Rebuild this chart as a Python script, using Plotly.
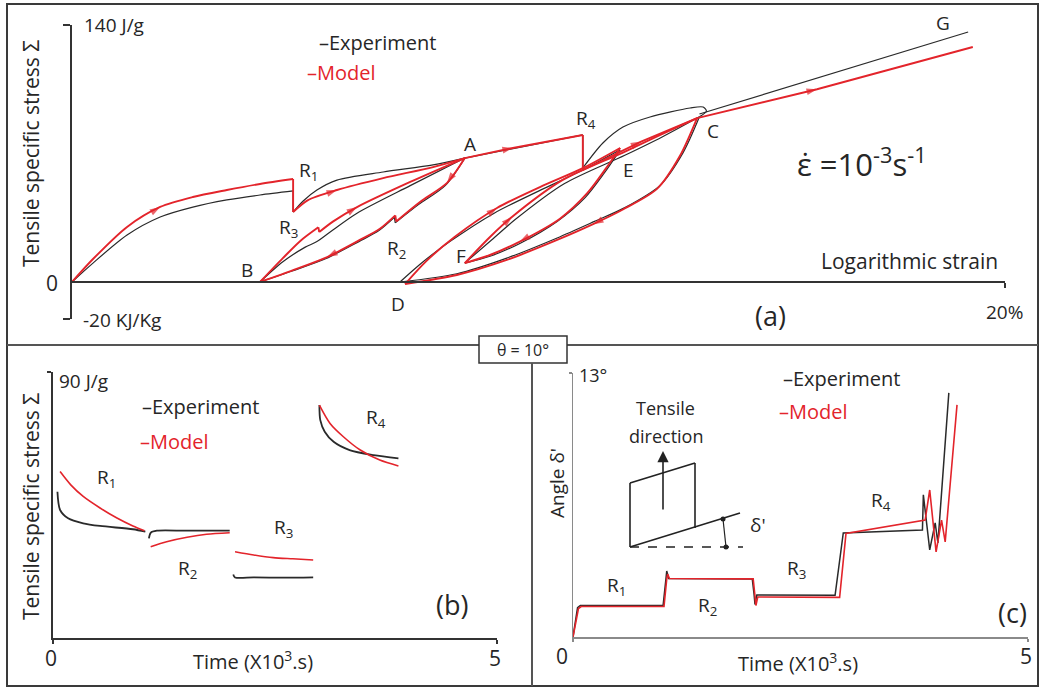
import plotly.graph_objects as go

W, H = 1041, 688
FONT = "'Open Sans', Lato, 'DejaVu Sans', sans-serif"
TXT = "#262626"
RED = "#e3242b"
BLK = "#2a2a2a"
AX = "#333333"

# ---------------- Panel (a): logarithmic strain (%) vs specific stress (J/g) ----------------
# Model (red) branches
mod_load_x = [0.0, 0.45, 1.18, 1.89, 2.59, 3.32, 4.03, 4.74]
mod_load_y = [0.0, 12.5, 30.0, 40.9, 46.3, 50.1, 53.4, 56.1]
mod_r1_x = [4.74, 4.74]
mod_r1_y = [56.1, 38.1]
mod_r1a_x = [4.74, 5.05, 5.68, 6.67, 7.74, 8.42]
mod_r1a_y = [38.1, 44.5, 50.1, 56.6, 62.6, 67.5]
mod_ar2_x = [8.42, 8.04, 7.46, 6.95]
mod_ar2_y = [67.5, 54.0, 43.6, 33.0]
mod_r2_x = [6.95, 6.93]
mod_r2_y = [33.0, 36.3]
mod_r2b_x = [6.93, 6.6, 6.17, 5.47, 4.74, 4.03]
mod_r2b_y = [36.3, 29.0, 22.9, 13.6, 6.5, 0.0]
mod_br3_x = [4.03, 4.52, 4.9, 5.28]
mod_br3_y = [0.0, 13.0, 22.5, 29.8]
mod_r3_x = [5.28, 5.30]
mod_r3_y = [29.8, 27.2]
mod_r3a_x = [5.30, 5.6, 6.11, 7.25, 8.42]
mod_r3a_y = [27.2, 33.0, 40.8, 54.5, 67.5]
mod_ar4_x = [8.42, 9.45, 10.95]
mod_ar4_y = [67.5, 73.0, 80.1]
mod_r4_x = [10.95, 10.95]
mod_r4_y = [80.1, 61.0]
mod_r4c_x = [10.95, 12.2, 13.4]
mod_r4c_y = [61.0, 76.5, 89.3]
mod_cd_x = [13.4, 13.03, 12.54, 11.81, 11.17, 10.4, 9.32, 8.25, 7.14]
mod_cd_y = [89.3, 68.6, 50.7, 39.5, 31.5, 22.9, 12.0, 3.8, -1.1]
mod_de_x = [7.14, 7.6, 8.2, 9.11, 10.03, 10.95, 11.75]
mod_de_y = [-1.1, 11.5, 24.5, 40.3, 51.7, 62.0, 73.0]
mod_ef_x = [11.75, 11.45, 11.05, 10.46, 9.6, 8.96, 8.42]
mod_ef_y = [73.0, 62.0, 48.5, 34.5, 22.0, 14.7, 10.3]
mod_fc_x = [8.42, 8.96, 9.43, 10.52, 11.81, 12.6, 13.4]
mod_fc_y = [10.3, 24.5, 35.4, 55.6, 70.5, 80.0, 89.3]
mod_cg_x = [13.4, 15.97, 19.31]
mod_cg_y = [89.3, 105.0, 128.0]

# Experiment (black) branches
exp_load_x = [0.0, 0.45, 1.18, 1.89, 2.59, 3.32, 4.03, 4.74]
exp_load_y = [0.0, 10.3, 25.6, 35.4, 40.8, 44.7, 47.4, 49.6]
exp_r1_x = [4.74, 4.74]
exp_r1_y = [49.6, 38.1]
exp_r1a_x = [4.74, 4.95, 5.25, 5.68, 6.67, 7.74, 8.42]
exp_r1a_y = [38.1, 44.0, 50.1, 55.5, 59.9, 63.8, 67.5]
exp_ar2_x = [8.42, 8.0, 7.42, 6.93]
exp_ar2_y = [67.5, 52.5, 42.0, 32.2]
exp_r2_x = [6.93, 6.91]
exp_r2_y = [32.2, 35.2]
exp_r2b_x = [6.91, 6.58, 6.15, 5.45, 4.72, 4.03]
exp_r2b_y = [35.2, 28.0, 22.0, 12.8, 6.0, 0.0]
exp_ba_x = [4.03, 4.52, 5.0, 5.25, 5.6, 6.11, 7.25, 8.42]
exp_ba_y = [0.0, 11.0, 19.0, 22.0, 28.5, 37.5, 52.5, 67.5]
exp_ar4_x = [8.42, 10.95]
exp_ar4_y = [67.5, 80.1]
exp_r4_x = [10.95, 10.95]
exp_r4_y = [80.1, 62.1]
exp_hump_x = [10.95, 11.38, 11.81, 12.39, 13.25, 13.53, 13.6, 13.45]
exp_hump_y = [62.1, 75.7, 84.4, 89.9, 94.8, 95.3, 93.0, 90.0]
exp_cd_x = [13.45, 13.1, 12.6, 11.85, 11.2, 10.4, 9.32, 8.25, 7.03]
exp_cd_y = [90.0, 70.5, 52.5, 40.5, 33.0, 24.0, 13.0, 4.5, 0.0]
exp_de_x = [7.03, 7.5, 8.1, 9.05, 10.0, 10.95, 11.75]
exp_de_y = [0.0, 10.5, 22.0, 37.5, 49.5, 61.0, 72.0]
exp_ef_x = [11.75, 11.4, 11.0, 10.4, 9.6, 8.96, 8.42]
exp_ef_y = [72.0, 59.0, 46.0, 33.0, 21.0, 14.0, 10.3]
exp_fc_x = [8.42, 9.0, 9.5, 10.55, 11.85, 12.65, 13.45]
exp_fc_y = [10.3, 23.0, 34.0, 53.5, 69.0, 79.0, 90.0]
exp_cg_x = [13.45, 19.21]
exp_cg_y = [91.5, 136.2]

# ---------------- Panel (b): relaxation stress vs time (x10^3 s) ----------------
b_exp_r1_t = [0.05, 0.08, 0.17, 0.34, 0.53, 0.9, 1.04]
b_exp_r1_s = [49.5, 43.3, 40.5, 38.8, 37.9, 36.8, 36.0]
b_mod_r1_t = [0.08, 0.2, 0.34, 0.53, 0.72, 0.9, 1.03]
b_mod_r1_s = [56.3, 51.8, 47.9, 44.0, 40.6, 37.9, 36.3]
b_exp_r2_t = [1.08, 1.10, 1.17, 1.5, 1.99]
b_exp_r2_s = [33.7, 35.6, 36.3, 36.3, 36.3]
b_mod_r2_t = [1.10, 1.28, 1.51, 1.73, 1.99]
b_mod_r2_s = [30.9, 32.6, 34.1, 35.1, 35.6]
b_exp_r3_t = [2.03, 2.05, 2.26, 2.6, 2.93]
b_exp_r3_s = [21.5, 20.5, 20.5, 20.4, 20.5]
b_mod_r3_t = [2.05, 2.26, 2.48, 2.7, 2.93]
b_mod_r3_s = [29.2, 28.1, 27.2, 26.8, 26.4]
b_exp_r4_t = [3.0, 3.01, 3.06, 3.16, 3.34, 3.61, 3.89]
b_exp_r4_s = [78.8, 73.7, 69.8, 66.4, 63.6, 61.9, 60.8]
b_mod_r4_t = [3.0, 3.12, 3.27, 3.46, 3.68, 3.89]
b_mod_r4_s = [78.8, 72.6, 68.1, 63.6, 60.2, 58.2]

# ---------------- Panel (c): angle delta' (deg) vs time (x10^3 s) ----------------
c_exp_t = [0, 0.05, 0.08, 0.99, 1.02, 1.03, 1.05, 1.97, 1.99, 2.0, 2.02, 2.88, 2.97, 3.84,
           3.85, 3.92, 3.98, 4.01, 4.13]
c_exp_a = [0, 1.45, 1.55, 1.55, 2.8, 3.25, 2.88, 2.86, 2.1, 1.6, 2.07, 2.05, 5.12, 5.27,
           7.0, 4.29, 5.62, 4.63, 12.02]
c_mod_t = [0, 0.06, 0.09, 1.0, 1.03, 1.04, 1.06, 1.98, 2.0, 2.01, 2.03, 2.93, 3.0, 3.87,
           3.92, 3.99, 4.05, 4.09, 4.22]
c_mod_a = [0, 1.4, 1.5, 1.5, 2.85, 3.1, 2.88, 2.86, 2.0, 1.55, 1.97, 1.95, 5.1, 5.76,
           7.24, 4.19, 5.76, 4.68, 11.43]

fig = go.Figure()


def path(xs, ys, color, width, smooth, xa="x", ya="y"):
    fig.add_trace(go.Scatter(
        x=xs, y=ys, mode="lines", xaxis=xa, yaxis=ya, hoverinfo="skip", showlegend=False,
        line=dict(color=color, width=width, shape="spline" if smooth else "linear",
                  smoothing=0.8 if smooth else None),
        cliponaxis=False))


def arrow(xs, ys, k, size=11):
    fig.add_trace(go.Scatter(
        x=[xs[k - 1], xs[k]], y=[ys[k - 1], ys[k]], mode="markers", hoverinfo="skip",
        showlegend=False, xaxis="x", yaxis="y", cliponaxis=False,
        marker=dict(symbol="arrow", size=[0, size], angleref="previous", color=RED,
                    line=dict(width=0))))


# panel (a) experiment
exp_branches = [
    (exp_load_x, exp_load_y, True), (exp_r1_x, exp_r1_y, False), (exp_r1a_x, exp_r1a_y, True),
    (exp_ar2_x, exp_ar2_y, True), (exp_r2_x, exp_r2_y, False), (exp_r2b_x, exp_r2b_y, True),
    (exp_ba_x, exp_ba_y, True), (exp_ar4_x, exp_ar4_y, False), (exp_r4_x, exp_r4_y, False),
    (exp_hump_x, exp_hump_y, True), (exp_cd_x, exp_cd_y, True), (exp_de_x, exp_de_y, True),
    (exp_ef_x, exp_ef_y, True), (exp_fc_x, exp_fc_y, True), (exp_cg_x, exp_cg_y, False),
]
for xs, ys, sm in exp_branches:
    path(xs, ys, BLK, 1.2, sm)

mod_branches = [
    (mod_load_x, mod_load_y, True), (mod_r1_x, mod_r1_y, False), (mod_r1a_x, mod_r1a_y, True),
    (mod_ar2_x, mod_ar2_y, True), (mod_r2_x, mod_r2_y, False), (mod_r2b_x, mod_r2b_y, True),
    (mod_br3_x, mod_br3_y, True), (mod_r3_x, mod_r3_y, False), (mod_r3a_x, mod_r3a_y, True),
    (mod_ar4_x, mod_ar4_y, False), (mod_r4_x, mod_r4_y, False), (mod_r4c_x, mod_r4c_y, False),
    (mod_cd_x, mod_cd_y, True), (mod_de_x, mod_de_y, True), (mod_ef_x, mod_ef_y, True),
    (mod_fc_x, mod_fc_y, True), (mod_cg_x, mod_cg_y, False),
]
for xs, ys, sm in mod_branches:
    path(xs, ys, RED, 1.9, sm)

for xs, ys, k in [(mod_load_x, mod_load_y, 3), (mod_r1a_x, mod_r1a_y, 2), (mod_ar2_x, mod_ar2_y, 1),
                  (mod_r2b_x, mod_r2b_y, 3), (mod_r3a_x, mod_r3a_y, 2), (mod_ar4_x, mod_ar4_y, 1),
                  (mod_r4c_x, mod_r4c_y, 1), (mod_cd_x, mod_cd_y, 4), (mod_de_x, mod_de_y, 3),
                  (mod_ef_x, mod_ef_y, 4), (mod_fc_x, mod_fc_y, 2), (mod_cg_x, mod_cg_y, 1)]:
    arrow(xs, ys, k)

# panel (b)
for t, s in [(b_exp_r1_t, b_exp_r1_s), (b_exp_r2_t, b_exp_r2_s), (b_exp_r3_t, b_exp_r3_s),
             (b_exp_r4_t, b_exp_r4_s)]:
    path(t, s, BLK, 1.8, True, "x2", "y2")
for t, s in [(b_mod_r1_t, b_mod_r1_s), (b_mod_r2_t, b_mod_r2_s), (b_mod_r3_t, b_mod_r3_s),
             (b_mod_r4_t, b_mod_r4_s)]:
    path(t, s, RED, 1.6, True, "x2", "y2")

# panel (c)
path(c_exp_t, c_exp_a, BLK, 1.5, False, "x3", "y3")
path(c_mod_t, c_mod_a, RED, 1.6, False, "x3", "y3")

# ---------------- axes ----------------
ya_dom = [1 - 318.7 / H, 1 - 25 / H]
y0_pos = ya_dom[0] + (0 - (-20)) / 160 * (ya_dom[1] - ya_dom[0])
common = dict(showgrid=False, zeroline=False, showticklabels=False, fixedrange=True)
fig.update_layout(
    xaxis=dict(domain=[72 / W, 1005 / W], range=[0, 20], anchor="free", position=y0_pos,
               showline=True, linecolor=AX, linewidth=2, ticks="outside", tickvals=[20],
               ticklen=5, tickwidth=2, tickcolor=AX, **common),
    yaxis=dict(domain=ya_dom, range=[-20, 140], anchor="x", showline=True, linecolor=AX,
               linewidth=2, ticks="outside", tickvals=[-20, 140], ticklen=7, tickwidth=2,
               tickcolor=AX, **common),
    xaxis2=dict(domain=[53 / W, 497 / W], range=[0, 5], anchor="y2", showline=True,
                linecolor=AX, linewidth=2, ticks="outside", tickvals=[0, 5], ticklen=4,
                tickwidth=2, tickcolor=AX, **common),
    yaxis2=dict(domain=[1 - 638 / H, 1 - 372 / H], range=[0, 90], anchor="x2", showline=True,
                linecolor=AX, linewidth=2, ticks="outside", tickvals=[90], ticklen=4,
                tickwidth=2, tickcolor=AX, **common),
    xaxis3=dict(domain=[573 / W, 1028 / W], range=[0, 5], anchor="y3", showline=True,
                linecolor="#8a8a8a", linewidth=1.5, ticks="outside", tickvals=[0, 5], ticklen=3,
                tickwidth=1.5, tickcolor="#8a8a8a", **common),
    yaxis3=dict(domain=[1 - 637 / H, 1 - 373 / H], range=[0, 13], anchor="x3", showline=True,
                linecolor="#8a8a8a", linewidth=1.5, ticks="outside", tickvals=[13], ticklen=3,
                tickwidth=1.5, tickcolor="#8a8a8a", **common),
)

# ---------------- text ----------------
annotations = []


def ann(x, y, text, size=21, color=TXT, xanchor="center", angle=0, family=FONT):
    annotations.append(dict(x=x / W, y=1 - y / H, xref="paper", yref="paper", text=text,
                            showarrow=False, xanchor=xanchor, yanchor="middle", textangle=angle,
                            font=dict(size=size, color=color, family=family)))


SUB = lambda n: "R<sub>%s</sub>" % n
# (a)
ann(82, 25, "140 J/g", 19, xanchor="left")
ann(52, 283, "0", 21)
ann(81, 320, "-20 KJ/Kg", 19, xanchor="left")
ann(31, 154, "Tensile specific stress Σ", 21, angle=-90)
ann(317, 42, "–Experiment", 20, xanchor="left")
ann(305, 73, "–Model", 20, color=RED, xanchor="left")
ann(308, 171, SUB(1), 19)
ann(288, 228, SUB(3), 19)
ann(396, 249, SUB(2), 19)
ann(247, 270, "B", 19)
ann(398, 304, "D", 19)
ann(461, 256, "F", 19)
ann(470, 144, "A", 19)
ann(586, 119, SUB(4), 19)
ann(713, 131, "C", 19)
ann(628, 170, "E", 19)
ann(943, 23, "G", 19)
ann(862, 163, "ε̇ =10<sup>-3</sup>s<sup>-1</sup>", 31)
ann(909, 261, "Logarithmic strain", 21)
ann(770, 316, "(a)", 27)
ann(1004, 312, "20%", 19)
# (b)
ann(57, 381, "90 J/g", 19, xanchor="left")
ann(31, 507, "Tensile specific stress Σ", 21, angle=-90)
ann(140, 406, "–Experiment", 20, xanchor="left")
ann(138, 441, "–Model", 20, color=RED, xanchor="left")
ann(106, 478, SUB(1), 19)
ann(187, 569, SUB(2), 19)
ann(283, 528, SUB(3), 19)
ann(376, 418, SUB(4), 19)
ann(452, 604, "(b)", 27)
ann(51, 658, "0", 21)
ann(495, 658, "5", 21)
ann(253, 660, "Time (X10<sup>3</sup>.s)", 20)
# (c)
ann(593, 375, "13°", 18)
ann(557, 483, "Angle δ'", 19, angle=-90)
ann(781, 378, "–Experiment", 20, xanchor="left")
ann(777, 412, "–Model", 20, color=RED, xanchor="left")
ann(665, 408, "Tensile", 18)
ann(666, 436, "direction", 18)
ann(758, 525, "δ'", 19)
ann(616, 586, SUB(1), 19)
ann(707, 606, SUB(2), 19)
ann(796, 569, SUB(3), 19)
ann(881, 501, SUB(4), 19)
ann(1012, 612, "(c)", 27)
ann(562, 656, "0", 21)
ann(1026, 656, "5", 21)
ann(798, 662, "Time (X10<sup>3</sup>.s)", 20)
# theta box
ann(523, 350, "θ = 10°", 16)

# arrow in the inset
annotations.append(dict(x=663 / W, y=1 - 451 / H, xref="paper", yref="paper", ax=0, ay=60,
                        axref="pixel", ayref="pixel", showarrow=True, arrowhead=2,
                        arrowsize=1.4, arrowwidth=1.6, arrowcolor="#222", text=""))

# ---------------- frame & inset shapes (pixel -> paper) ----------------
shapes = []


def line(x0, y0, x1, y1, color="#444", width=1.5, dash=None):
    shapes.append(dict(type="line", xref="paper", yref="paper", x0=x0 / W, y0=1 - y0 / H,
                       x1=x1 / W, y1=1 - y1 / H, line=dict(color=color, width=width,
                                                            dash=dash or "solid")))


shapes.append(dict(type="rect", xref="paper", yref="paper", x0=7 / W, y0=1 - 686 / H,
                   x1=1038 / W, y1=1 - 4 / H, line=dict(color="#3a3a3a", width=2)))
line(7, 345, 479, 345, "#555", 2)
line(567, 345, 1038, 345, "#555", 2)
shapes.append(dict(type="rect", xref="paper", yref="paper", x0=479 / W, y0=1 - 363 / H,
                   x1=567 / W, y1=1 - 336 / H, line=dict(color="#333", width=1.5),
                   fillcolor="white"))
line(532, 363, 532, 686, "#555", 2)
# inset parallelogram
line(630, 483, 695, 463, "#222", 1.6)
line(695, 463, 695, 528, "#222", 1.6)
line(630, 483, 630, 547, "#222", 1.6)
line(630, 547, 740, 513, "#222", 1.6)
line(630, 547, 743, 547, "#222", 1.4, "dash")
line(723, 519, 726, 547, "#222", 1.2)
shapes.append(dict(type="circle", xref="paper", yref="paper", x0=720.5 / W, x1=725.5 / W,
                   y0=1 - 521.5 / H, y1=1 - 516.5 / H, fillcolor="#222", line=dict(width=0)))
shapes.append(dict(type="circle", xref="paper", yref="paper", x0=723.5 / W, x1=728.5 / W,
                   y0=1 - 549.5 / H, y1=1 - 544.5 / H, fillcolor="#222", line=dict(width=0)))

fig.update_layout(width=W, height=H, margin=dict(l=0, r=0, t=0, b=0), paper_bgcolor="white",
                  plot_bgcolor="rgba(0,0,0,0)", showlegend=False, annotations=annotations,
                  shapes=shapes, font=dict(family=FONT, color=TXT))
fig.write_html("out.html", config={"displayModeBar": False, "staticPlot": True},
               post_script="document.body.style.margin='0';document.body.style.overflow='hidden';")
